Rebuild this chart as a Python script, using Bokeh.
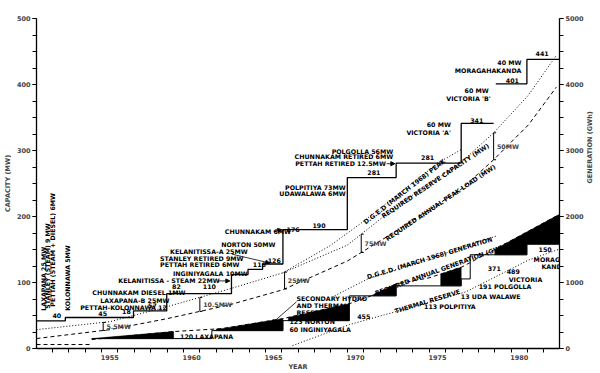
import math
import numpy as np
from bokeh.plotting import figure
from bokeh.models import Range1d, LinearAxis, FixedTicker, Label, Arrow, NormalHead
from bokeh.embed import file_html
from bokeh.resources import INLINE

# ---------------- data ----------------
# installed capacity (MW), step segments
cap_start = [1950.53, 1952.29, 1956.45, 1958.48, 1962.43, 1963.44, 1964.33, 1965.57, 1969.50, 1972.48, 1976.45, 1978.56, 1980.46]
cap_end   = [1952.29, 1956.45, 1958.48, 1962.43, 1963.44, 1964.33, 1965.57, 1969.50, 1972.48, 1976.45, 1978.43, 1980.46, 1982.45]
cap_mw    = [42, 47, 57, 83, 112, 120, 128, 180, 259, 281, 341, 401, 438]

# peak curves (MW)
pk_year  = [1950.53, 1955.03, 1958.5, 1962.33, 1965.55, 1969.5, 1972.66, 1976.43, 1978.43, 1980.56, 1982.26]
res_mw   = [28.6, 40.7, 63.3, 90.4, 114.5, 156.6, 218.4, 281.6, 326.8, 384.0, 444.3]
load_mw  = [15.1, 28.6, 45.2, 66.3, 88.9, 132.5, 180.7, 241.0, 286.0, 339.0, 396.0]
dged_pk_year = [1965.55, 1968.4, 1970.35, 1972.66, 1975.15, 1976.43]
dged_pk_mw   = [114.5, 155.0, 190.0, 235.0, 283.0, 301.0]

# generation (GWh)
firm_start = [1950.53, 1953.9, 1961.23, 1965.57, 1969.62, 1972.48, 1976.45, 1977.0, 1980.46]
firm_end   = [1953.9, 1961.23, 1965.57, 1969.62, 1972.48, 1976.45, 1977.0, 1980.46, 1982.45]
firm_gwh   = [60, 150, 271, 422, 798, 949, 1054, 1420, 1581]
dem_year = [1953.9, 1958.86, 1961.84, 1965.55, 1969.62, 1970.96, 1972.48, 1974.48, 1976.49, 1978.31, 1982.45]
dem_gwh  = [136, 256, 301, 452, 678, 798, 979, 1069, 1235, 1476, 2033]
dged_gen_year = [1968.73, 1970.74, 1973.29, 1975.72, 1978.56]
dged_gen_gwh  = [798, 1054, 1265, 1461, 1702]
thr_year = [1966.16, 1969.62, 1972.66, 1976.73, 1980.56, 1982.45]
thr_gwh  = [45, 361, 572, 858, 1340, 1506]
short_windows = [(1953.9, 1958.9), (1961.5, 1965.57), (1965.9, 1969.62), (1971.0, 1972.48), (1975.2, 1976.45), (1978.5, 1982.45)]

bracket_year  = [1954.6, 1960.5, 1965.67, 1970.35, 1978.43]
bracket_label = ["5.5MW", "10.5MW", "25MW", "75MW", "50MW"]

year_ticks = [1955, 1960, 1965, 1970, 1975, 1980]
cap_ticks = [0, 100, 200, 300, 400, 500]
gen_ticks = [0, 1000, 2000, 3000, 4000, 5000]

labels = [
    ("LAXAPANA 25 MW", 1950.93, 57.2, 90, "left"),
    ("STANLEY (STEAM) 9 MW", 1951.23, 60.2, 90, "left"),
    ("PETTAH (STEAM + DIESEL) 6MW", 1951.53, 63.3, 90, "left"),
    ("KOLONNAWA 5MW", 1952.45, 57.2, 90, "left"),
    ("40", 1951.5, 49.7, 0, "left"),
    ("45", 1954.3, 52.7, 0, "left"),
    ("PETTAH-KOLONNAWA 12", 1953.2, 61.7, 0, "left"),
    ("57", 1957.34, 64.8, 0, "left"),
    ("18", 1955.75, 55.7, 0, "left"),
    ("LAXAPANA-B 25MW", 1954.42, 72.3, 0, "left"),
    ("CHUNNAKAM DIESEL 1MW", 1953.94, 84.3, 0, "left"),
    ("82", 1958.8, 93.4, 0, "left"),
    ("KELANITISSA - STEAM 22MW", 1955.52, 102.4, 0, "left"),
    ("INGINIYAGALA 10MW", 1958.86, 113.0, 0, "left"),
    ("110", 1960.68, 93.4, 0, "left"),
    ("PETTAH RETIRED 6MW", 1958.07, 128.0, 0, "left"),
    ("STANLEY RETIRED 9MW", 1958.07, 137.0, 0, "left"),
    ("KELANITISSA-A 25MW", 1958.68, 147.6, 0, "left"),
    ("NORTON 50MW", 1961.8, 158.0, 0, "left"),
    ("CHUNNAKAM 6MW", 1962.02, 177.7, 0, "left"),
    ("176", 1965.79, 181.0, 0, "left"),
    ("116", 1963.73, 127.0, 0, "left"),
    ("126", 1964.64, 134.0, 0, "left"),
    ("190", 1967.37, 186.0, 0, "left"),
    ("POLPITIYA 73MW", 1969.4, 244.0, 0, "right"),
    ("UDAWALAWA 6MW", 1969.4, 235.0, 0, "right"),
    ("POLGOLLA 56MW", 1972.3, 298.0, 0, "right"),
    ("CHUNNAKAM RETIRED 6MW", 1972.3, 290.7, 0, "right"),
    ("PETTAH RETIRED 12.5MW", 1971.85, 280.0, 0, "right"),
    ("281", 1970.72, 266.6, 0, "left"),
    ("281", 1974.0, 289.0, 0, "left"),
    ("60 MW", 1975.82, 340.0, 0, "right"),
    ("VICTORIA 'A'", 1975.82, 328.0, 0, "right"),
    ("341", 1977.0, 346.0, 0, "left"),
    ("60 MW", 1978.13, 391.6, 0, "right"),
    ("VICTORIA 'B'", 1978.25, 379.5, 0, "right"),
    ("401", 1979.17, 406.6, 0, "left"),
    ("40 MW", 1980.13, 433.7, 0, "right"),
    ("MORAGAHAKANDA", 1980.13, 421.7, 0, "right"),
    ("441", 1980.99, 447.3, 0, "left"),
    ("D.G.E.D (MARCH 1968) PEAK", 1970.53, 190.7, 38, "left"),
    ("REQUIRED RESERVE CAPACITY (MW)", 1971.62, 200.0, 34, "left"),
    ("REQUIRED ANNUAL PEAK LOAD (MW)", 1971.87, 165.7, 34, "left"),
    ("SECONDARY HYDRO", 1966.4, 75.3, 0, "left"),
    ("AND THERMAL", 1966.4, 64.8, 0, "left"),
    ("RESERVE", 1966.4, 54.2, 0, "left"),
    ("123 NORTON", 1965.97, 40.7, 0, "left"),
    ("60 INGINIYAGALA", 1965.97, 28.6, 0, "left"),
    ("455", 1970.1, 48.2, 0, "left"),
    ("120 LAXAPANA", 1959.29, 18.1, 0, "left"),
    ("D.G.E.D. (MARCH 1968) GENERATION", 1970.7, 108.4, 17, "left"),
    ("REQUIRED ANNUAL GENERATION (GWh)", 1971.2, 84.0, 20, "left"),
    ("THERMAL RESERVE", 1972.4, 56.7, 17, "left"),
    ("113 POLPITIYA", 1974.18, 63.3, 0, "left"),
    ("13 UDA WALAWE", 1976.43, 78.3, 0, "left"),
    ("191 POLGOLLA", 1977.52, 93.4, 0, "left"),
    ("371", 1978.07, 120.5, 0, "left"),
    ("489", 1979.23, 116.0, 0, "left"),
    ("VICTORIA", 1979.35, 104.0, 0, "left"),
    ("150", 1981.17, 150.6, 0, "left"),
    ("MORAGAHA", 1980.87, 135.5, 0, "left"),
    ("KANDA", 1981.35, 123.5, 0, "left"),
]

arrows = [
    (1961.6, 102.4, 1962.33, 102.4),
    (1962.45, 143.0, 1964.76, 129.5),
    (1966.4, 70.8, 1964.88, 37.7),
    (1971.9, 280.0, 1972.4, 280.0),
    (1965.0, 177.7, 1965.5, 180.0),
]

FONT = "DejaVu Sans"
FS = "6.3px"

# ---------------- figure ----------------
p = figure(width=600, height=373, output_backend="svg", toolbar_location=None,
           x_range=Range1d(1950.53, 1982.45), y_range=Range1d(0, 500),
           min_border_left=36, min_border_right=39, min_border_top=18, min_border_bottom=22)
p.extra_y_ranges = {"gen": Range1d(0, 5000)}
p.xgrid.visible = False
p.ygrid.visible = False
p.outline_line_color = None
p.background_fill_color = "white"

def style_axis(ax):
    ax.axis_line_width = 1.3
    ax.major_label_text_font = FONT
    ax.major_label_text_font_size = "6.5px"
    ax.major_label_text_font_style = "bold"
    ax.axis_label_text_font = FONT
    ax.axis_label_text_font_size = "6.5px"
    ax.axis_label_text_font_style = "bold"

xa = p.xaxis[0]
xa.ticker = FixedTicker(ticks=year_ticks, minor_ticks=[1950.5 + i for i in range(33)])
xa.major_tick_out = 0
xa.major_tick_in = 0
xa.minor_tick_out = 4
xa.minor_tick_in = 0
xa.major_label_standoff = 2
xa.axis_label = "YEAR"
xa.axis_label_standoff = 0
style_axis(xa)

ya = p.yaxis[0]
ya.ticker = FixedTicker(ticks=cap_ticks, minor_ticks=list(range(0, 501, 25)))
ya.major_tick_out = 4
ya.major_tick_in = 0
ya.minor_tick_out = 4
ya.minor_tick_in = 0
ya.major_label_standoff = 2
ya.axis_label = "CAPACITY (MW)"
ya.axis_label_standoff = 2
style_axis(ya)

ra = LinearAxis(y_range_name="gen", ticker=FixedTicker(ticks=gen_ticks, minor_ticks=list(range(0, 5001, 250))),
                axis_label="GENERATION (GWh)")
ra.major_tick_out = 4
ra.major_tick_in = 0
ra.minor_tick_out = 4
ra.minor_tick_in = 0
ra.major_label_standoff = 2
ra.axis_label_standoff = 3
ra.axis_label_orientation = math.pi / 2
style_axis(ra)
p.add_layout(ra, "right")

# ---- helpers ----
def step_paths(starts, ends, vals):
    paths, xs, ys = [], [], []
    for s, e, v in zip(starts, ends, vals):
        if xs and abs(s - xs[-1]) > 1e-6:
            paths.append((xs, ys))
            xs, ys = [], []
        xs += [s, e]
        ys += [v, v]
    paths.append((xs, ys))
    return paths

def firm_at(x):
    for s, e, v in zip(firm_start, firm_end, firm_gwh):
        if s <= x < e:
            return v
    return firm_gwh[-1]

# ---- black shortfall areas (generation) ----
pxs, pys = [], []
for a, b in short_windows:
    bx, by = [a], [firm_at(a)]
    for s, v in zip(firm_start, firm_gwh):
        if a < s < b:
            bx += [s, s]
            by += [firm_at(s - 1e-9), v]
    bx.append(b)
    by.append(firm_at(b - 1e-9))
    tx = [a] + [d for d in dem_year if a < d < b] + [b]
    ty = [max(float(np.interp(t, dem_year, dem_gwh)), firm_at(min(t, b - 1e-9))) for t in tx]
    pxs.append(bx + tx[::-1])
    pys.append(by + ty[::-1])
p.patches(pxs, pys, y_range_name="gen", fill_color="black", line_color="black", line_width=0.5)

# ---- generation lines ----
p.line([firm_start[0], firm_end[0]], [firm_gwh[0], firm_gwh[0]], y_range_name="gen",
       line_color="black", line_width=1, line_dash="4 3")
fp = step_paths(firm_start[1:], firm_end[1:], firm_gwh[1:])
p.multi_line([c[0] for c in fp], [c[1] for c in fp], y_range_name="gen", line_color="black", line_width=1)
p.line(dem_year, dem_gwh, y_range_name="gen", line_color="black", line_width=1, line_dash="4 3")
p.line(dged_gen_year, dged_gen_gwh, y_range_name="gen", line_color="black", line_width=1, line_dash="1 2")
p.line(thr_year, thr_gwh, y_range_name="gen", line_color="black", line_width=1, line_dash="1 2")

# ---- peak curves ----
p.line(pk_year, res_mw, line_color="black", line_width=1, line_dash="1 2")
p.line(pk_year, load_mw, line_color="black", line_width=1, line_dash="4 3")
p.line(dged_pk_year, dged_pk_mw, line_color="black", line_width=1, line_dash="1 2")

# ---- capacity step ----
cp = step_paths(cap_start, cap_end, cap_mw)
p.multi_line([c[0] for c in cp], [c[1] for c in cp], line_color="black", line_width=1.3)

# ---- reserve brackets ----
bxs, bys = [], []
for by_, bl in zip(bracket_year, bracket_label):
    top = float(np.interp(by_, pk_year, res_mw))
    bot = float(np.interp(by_, pk_year, load_mw))
    bxs.append([by_ + 0.15, by_, by_, by_ + 0.15])
    bys.append([top, top, bot, bot])
    p.add_layout(Label(x=by_ + 0.2, y=(top + bot) / 2, text=bl, text_font=FONT,
                       text_font_size=FS, text_font_style="bold", text_baseline="middle",
                       text_align="left"))
p.multi_line(bxs, bys, line_color="black", line_width=1)

# ---- text labels ----
for t, x, y, ang, al in labels:
    p.add_layout(Label(x=x, y=y, text=t, angle=ang, angle_units="deg", text_align=al,
                       text_baseline="middle", text_font=FONT, text_font_size=FS,
                       text_font_style="bold", text_color="black"))

for x0, y0, x1, y1 in arrows:
    p.add_layout(Arrow(x_start=x0, y_start=y0, x_end=x1, y_end=y1, line_width=0.8,
                       end=NormalHead(size=4, fill_color="black", line_color="black")))

open("out.html", "w").write(file_html(p, INLINE))
